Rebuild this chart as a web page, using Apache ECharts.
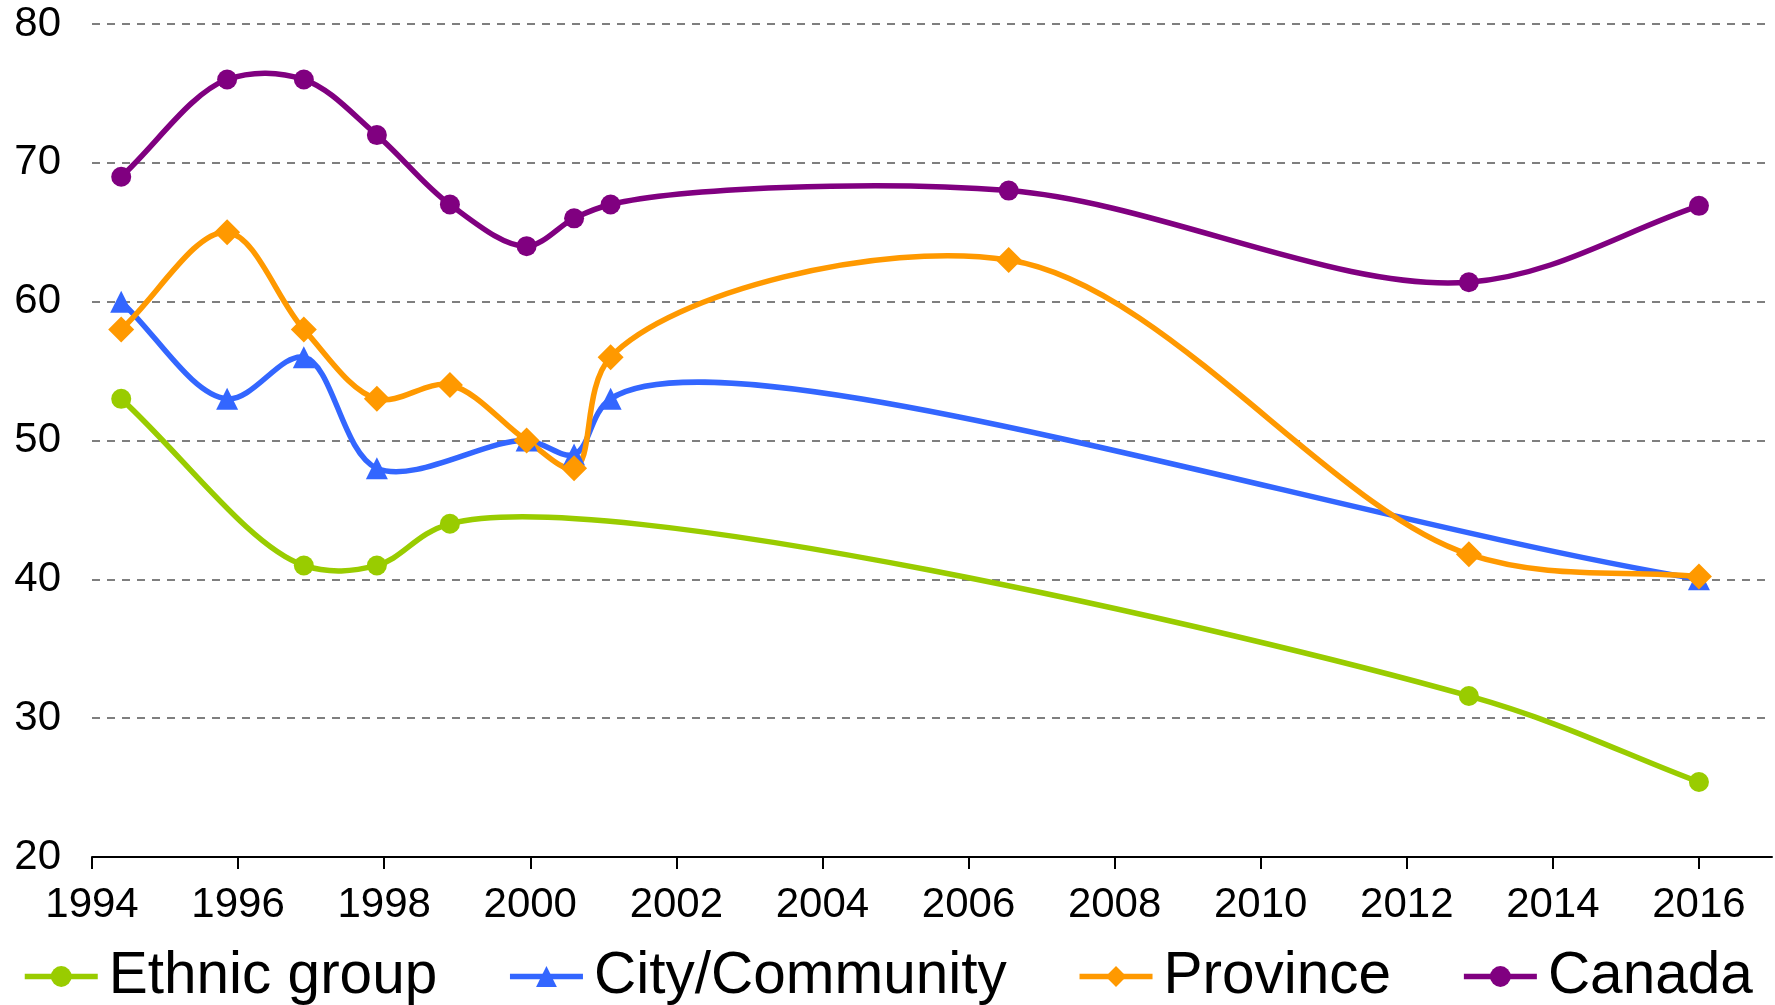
<!DOCTYPE html>
<html>
<head>
<meta charset="utf-8">
<script src="https://cdn.jsdelivr.net/npm/echarts@6/dist/echarts.min.js"></script>
<style>
  html, body { margin: 0; padding: 0; background: #fff; }
  #chart { width: 1775px; height: 1005px; }
</style>
</head>
<body>
<div id="chart"></div>
<script>
// survey years (positions on the value axis) and shares per series
var ethnicYears = [1994.4, 1996.9, 1997.9, 1998.9, 2012.85, 2016];
var ethnicValues = [53, 41, 41, 44, 31.6, 25.4];

var cityYears = [1994.4, 1995.85, 1996.9, 1997.9, 1999.95, 2000.6, 2001.1, 2016];
var cityValues = [60, 53, 56, 48, 50, 49, 53, 40];

var provinceYears = [1994.4, 1995.85, 1996.9, 1997.9, 1998.9, 1999.95, 2000.6, 2001.1, 2006.55, 2012.85, 2016];
var provinceValues = [58, 65, 58, 53, 54, 50, 48, 56, 63, 41.8, 40.2];

var canadaYears = [1994.4, 1995.85, 1996.9, 1997.9, 1998.9, 1999.95, 2000.6, 2001.1, 2006.55, 2012.85, 2016];
var canadaValues = [69, 76, 76, 72, 67, 64, 66, 67, 68, 61.4, 66.9];

var seriesNames = ['Ethnic group', 'City/Community', 'Province', 'Canada'];
var colors = ['#99cc00', '#3366ff', '#ff9900', '#800080'];

function pairs(xs, ys) {
  return xs.map(function (x, i) { return [x, ys[i]] })
}

var font = '"Liberation Sans", Arial, sans-serif'
var lineWidth = 5.5

// catmull-rom style spline through the pixel points (knot spacing = dist^alpha),
// closer to the office-style smoothed line than the built in smooth option
function splinePath(pts, alpha) {
  var n = pts.length
  var dt = [], v = [], m = []
  for (var i = 0; i < n - 1; i++) {
    var dx = pts[i + 1][0] - pts[i][0], dy = pts[i + 1][1] - pts[i][1]
    dt[i] = Math.max(Math.pow(Math.sqrt(dx * dx + dy * dy), alpha), 1e-6)
    v[i] = [dx / dt[i], dy / dt[i]]
  }
  for (i = 1; i < n - 1; i++) {
    var a = dt[i - 1], b = dt[i]
    m[i] = [(v[i - 1][0] * b + v[i][0] * a) / (a + b), (v[i - 1][1] * b + v[i][1] * a) / (a + b)]
  }
  // ends just follow the first / last chord
  m[0] = v[0]
  m[n - 1] = v[n - 2]
  var d = 'M' + pts[0][0] + ' ' + pts[0][1]
  for (i = 0; i < n - 1; i++) {
    var h = dt[i] / 3
    d += ' C' + (pts[i][0] + m[i][0] * h) + ' ' + (pts[i][1] + m[i][1] * h) +
      ' ' + (pts[i + 1][0] - m[i + 1][0] * h) + ' ' + (pts[i + 1][1] - m[i + 1][1] * h) +
      ' ' + pts[i + 1][0] + ' ' + pts[i + 1][1]
  }
  return d
}

function curve(idx, data) {
  return {
    name: seriesNames[idx] + ' curve',
    type: 'custom',
    coordinateSystem: 'cartesian2d',
    silent: true,
    z: 2,
    data: data,
    renderItem: function (params, api) {
      if (params.dataIndex !== 0) return null
      var pts = data.map(function (p) { return api.coord(p) })
      return {
        type: 'path',
        shape: { pathData: splinePath(pts, 0.6) },
        style: { fill: 'none', stroke: colors[idx], lineWidth: lineWidth, lineJoin: 'round', lineCap: 'round' }
      }
    }
  }
}

function markers(idx, data, symbol, size) {
  return {
    name: seriesNames[idx],
    type: 'line',
    data: data,
    z: 3,
    symbol: symbol,
    symbolSize: size,
    showAllSymbol: true,
    lineStyle: { width: lineWidth, color: colors[idx], opacity: 0 },
    itemStyle: { color: colors[idx] },
    emphasis: { disabled: true }
  }
}

var ethnicData = pairs(ethnicYears, ethnicValues)
var cityData = pairs(cityYears, cityValues)
var provinceData = pairs(provinceYears, provinceValues)
var canadaData = pairs(canadaYears, canadaValues)

var chart = echarts.init(document.getElementById('chart'))
chart.setOption({
  animation: false,
  textStyle: { fontFamily: font },
  grid: {
    left: 92,
    right: 3,
    top: 24,
    bottom: 148
  },
  legend: {
    data: seriesNames,
    left: 17,
    top: 942,
    itemWidth: 73,
    itemHeight: 26,
    itemGap: 70,
    lineStyle: { width: lineWidth, opacity: 1 },
    textStyle: {
      fontSize: 58.5,
      color: '#000',
      fontFamily: font,
      padding: [0, 0, 0, 6]
    }
  },
  xAxis: {
    type: 'value',
    min: 1994,
    max: 2017,
    interval: 2,
    splitLine: { show: false },
    axisLine: { show: true, lineStyle: { color: '#000', width: 2 } },
    axisTick: { show: true, length: 12, lineStyle: { color: '#000', width: 2 } },
    axisLabel: {
      fontSize: 42,
      color: '#000',
      margin: 27,
      showMaxLabel: false,
      formatter: function (v) { return v % 2 === 0 ? String(v) : '' }
    }
  },
  yAxis: {
    type: 'value',
    min: 20,
    max: 80,
    interval: 10,
    axisLine: { show: false },
    axisTick: { show: false },
    splitLine: {
      show: true,
      lineStyle: { color: '#555', width: 1.5, type: [8, 7] }
    },
    axisLabel: {
      fontSize: 42,
      color: '#000',
      margin: 31
    }
  },
  series: [
    curve(0, ethnicData),
    curve(1, cityData),
    curve(2, provinceData),
    curve(3, canadaData),
    markers(0, ethnicData, 'circle', 20),
    markers(1, cityData, 'triangle', 22),
    markers(2, provinceData, 'diamond', 26),
    markers(3, canadaData, 'circle', 20)
  ]
})
</script>
</body>
</html>
